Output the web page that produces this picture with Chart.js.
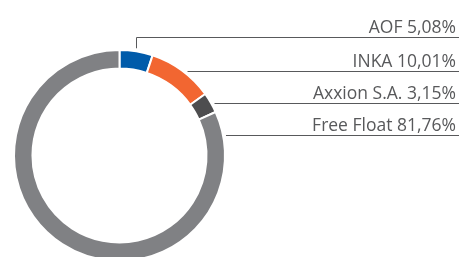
<!DOCTYPE html>
<html>
<head>
<meta charset="utf-8">
<script src="https://cdn.jsdelivr.net/npm/chart.js@4/dist/chart.umd.min.js"></script>
<style>
  html, body { margin: 0; padding: 0; background: #fff; overflow: hidden; }
  body { width: 459px; height: 257px; position: relative; }
  #holder { position: absolute; left: 0; top: 0; width: 459px; height: 320px; }
</style>
</head>
<body>
<div id="holder"><canvas id="myChart" width="459" height="320"></canvas></div>
<script>
const shareholders = ["AOF", "INKA", "Axxion S.A.", "Free Float"];
const shares = [5.08, 10.01, 3.15, 81.76];
const shareLabels = ["5,08%", "10,01%", "3,15%", "81,76%"];
const colors = ["#005baa", "#f26631", "#4d4d4f", "#808184"];

// where along each slice the leader line attaches (0 = start, 1 = end)
const anchorAt = [0.48, 0.57, 0.6, 0.045];

const leaderLines = {
    id: "leaderLines",
    afterDraw(chart) {
        const ctx = chart.ctx;
        const arcs = chart.getDatasetMeta(0).data;
        const right = chart.width;
        ctx.save();
        ctx.strokeStyle = "#58595b";
        ctx.lineWidth = 1;
        ctx.fillStyle = "#58595b";
        ctx.font = "17.5px 'Open Sans'";
        ctx.textAlign = "right";
        ctx.textBaseline = "alphabetic";
        arcs.forEach((arc, i) => {
            const a = arc.startAngle + (arc.endAngle - arc.startAngle) * anchorAt[i];
            const px = arc.x + Math.cos(a) * (arc.outerRadius + 3);
            const py = arc.y + Math.sin(a) * (arc.outerRadius + 3);
            let lineY;
            ctx.beginPath();
            if (i === 0) {
                // first label sits above the ring, line goes up then right
                lineY = Math.round(py - 11) + 0.5;
                ctx.moveTo(Math.round(px) + 0.5, py);
                ctx.lineTo(Math.round(px) + 0.5, lineY);
                ctx.lineTo(right, lineY);
            } else {
                lineY = Math.round(py) + 0.5;
                ctx.moveTo(px, lineY);
                ctx.lineTo(right, lineY);
            }
            ctx.stroke();
            ctx.fillText(shareholders[i] + " " + shareLabels[i], right - 3, lineY - 5);
        });
        ctx.restore();
    },
};

new Chart(document.getElementById("myChart"), {
    type: "doughnut",
    data: {
        labels: shareholders,
        datasets: [
            {
                data: shares,
                backgroundColor: colors,
                borderColor: "#ffffff",
                borderWidth: 2,
                hoverOffset: 0,
            },
        ],
    },
    options: {
        responsive: false,
        animation: false,
        cutout: "82.5%",
        layout: {
            padding: { left: 13, top: 49, right: 233, bottom: 58 },
        },
        plugins: {
            legend: { display: false },
            tooltip: { enabled: false },
        },
    },
    plugins: [leaderLines],
});
</script>
</body>
</html>
